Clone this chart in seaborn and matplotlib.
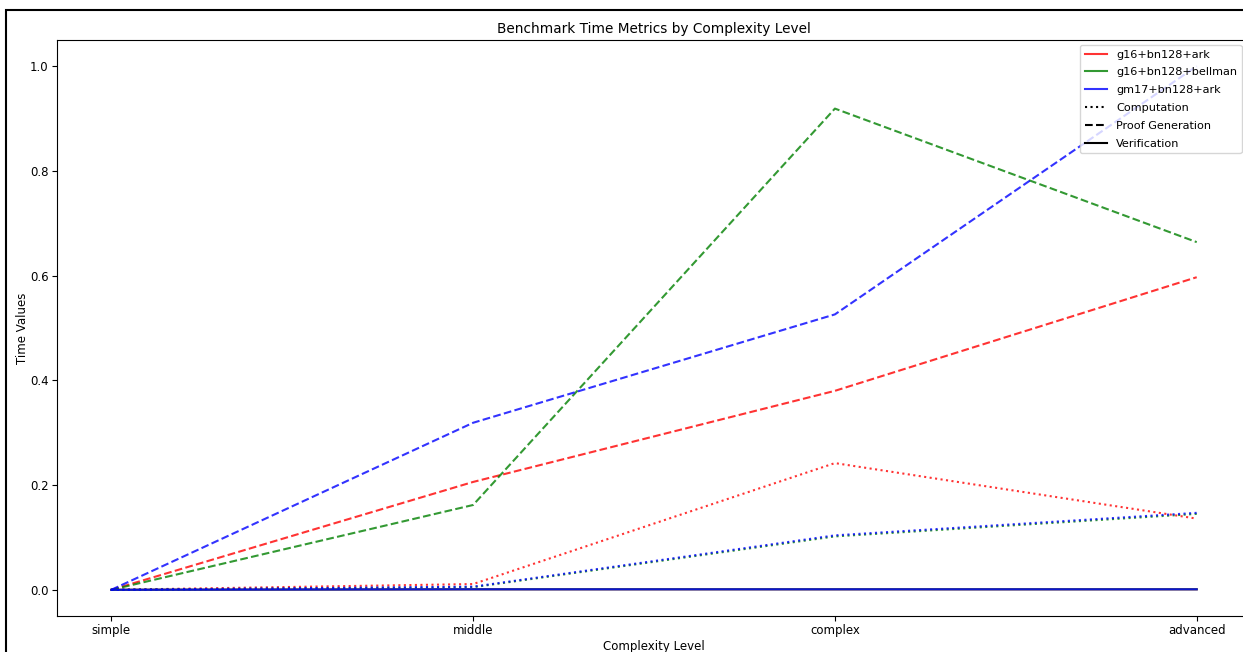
import matplotlib
matplotlib.use("Agg")
import matplotlib.pyplot as plt
from matplotlib.lines import Line2D
from matplotlib.patches import Rectangle
import pandas as pd
import seaborn as sns

levels = ["simple", "middle", "complex", "advanced"]
configs = ["g16+bn128+ark", "g16+bn128+bellman", "gm17+bn128+ark"]
metrics = ["Computation", "Proof Generation", "Verification"]

# time values per configuration and metric, one value per complexity level
computation_g16_ark = [0.0, 0.011, 0.242, 0.136]
computation_g16_bellman = [0.0, 0.005, 0.102, 0.145]
computation_gm17_ark = [0.0, 0.006, 0.104, 0.147]

proof_g16_ark = [0.0, 0.206, 0.380, 0.597]
proof_g16_bellman = [0.0, 0.162, 0.919, 0.664]
proof_gm17_ark = [0.0, 0.319, 0.526, 1.0]

verify_g16_ark = [0.0, 0.001, 0.001, 0.001]
verify_g16_bellman = [0.0, 0.001, 0.001, 0.001]
verify_gm17_ark = [0.0, 0.001, 0.001, 0.001]

series = {
    ("g16+bn128+ark", "Computation"): computation_g16_ark,
    ("g16+bn128+bellman", "Computation"): computation_g16_bellman,
    ("gm17+bn128+ark", "Computation"): computation_gm17_ark,
    ("g16+bn128+ark", "Proof Generation"): proof_g16_ark,
    ("g16+bn128+bellman", "Proof Generation"): proof_g16_bellman,
    ("gm17+bn128+ark", "Proof Generation"): proof_gm17_ark,
    ("g16+bn128+ark", "Verification"): verify_g16_ark,
    ("g16+bn128+bellman", "Verification"): verify_g16_bellman,
    ("gm17+bn128+ark", "Verification"): verify_gm17_ark,
}

rows = []
for metric in metrics:
    for cfg in configs:
        for lvl, val in zip(levels, series[(cfg, metric)]):
            rows.append({"Complexity Level": lvl, "Time Values": val,
                         "config": cfg, "metric": metric})
df = pd.DataFrame(rows)

palette = {"g16+bn128+ark": "red", "g16+bn128+bellman": "green", "gm17+bn128+ark": "blue"}
dash_styles = {"Computation": (1, 1.65), "Proof Generation": (3.7, 1.6), "Verification": ""}

W, H = 1243, 652
fig = plt.figure(figsize=(W / 100, H / 100), dpi=100)
ax = fig.add_axes([57 / W, 1 - 616 / H, (1251 - 57) / W, (616 - 40) / H])

sns.lineplot(data=df, x="Complexity Level", y="Time Values", hue="config",
             style="metric", palette=palette, dashes=dash_styles,
             hue_order=configs, style_order=metrics, alpha=0.8,
             linewidth=1.5, ax=ax, legend=False)

ax.set_xticks(range(len(levels)))
ax.set_xticklabels(levels)
ax.set_title("Benchmark Time Metrics by Complexity Level", fontsize=9.8, pad=5)
ax.set_xlabel("Complexity Level", fontsize=8.5, labelpad=2)
ax.set_ylabel("Time Values", fontsize=8.5, labelpad=1)
ax.tick_params(labelsize=8.5, pad=2.5)
ax.margins(x=0.05, y=0.05)

handles = [Line2D([0], [0], color=palette[c], alpha=0.8, lw=1.5) for c in configs]
handles += [
    Line2D([0], [0], color="black", lw=1.5, linestyle=(0, (1, 1.65))),
    Line2D([0], [0], color="black", lw=1.5, linestyle=(0, (3.7, 1.6))),
    Line2D([0], [0], color="black", lw=1.5, linestyle="-"),
]
fig.legend(handles, configs + metrics, loc="upper right",
           bbox_to_anchor=(1241.5 / W, 1 - 45 / H), borderaxespad=0,
           fontsize=8.1, framealpha=0.8, labelspacing=0.7)

# frame around the whole figure
fig.patches.append(Rectangle((6 / W, 1 - 660 / H), (1255 - 6) / W, (660 - 10) / H,
                             transform=fig.transFigure, fill=False,
                             edgecolor="black", linewidth=1.5, zorder=10))

fig.savefig("out.png", dpi=100)
